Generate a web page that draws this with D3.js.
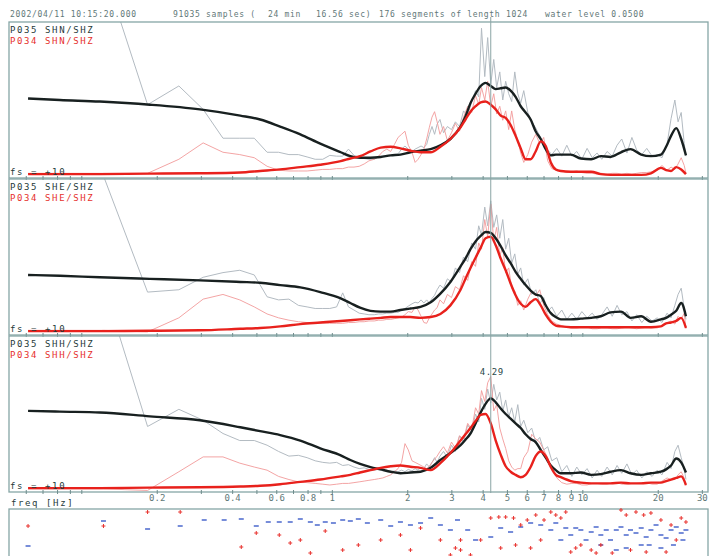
<!DOCTYPE html>
<html>
<head>
<meta charset="utf-8">
<script src="https://cdn.jsdelivr.net/npm/d3@7"></script>
<style>
  body { margin: 0; background: #fff; }
  svg { display: block; }
  text { font-family: "DejaVu Sans Mono", monospace; }
</style>
</head>
<body>
<div id="chart"></div>
<script>
const headerTexts = ["2002/04/11 10:15:20.000", "91035 samples (", "24 min", "16.56 sec)",
  "176 segments of length 1024", "water level 0.0500"];
const panelLabels = [
  ["P035 SHN/SHZ", "P034 SHN/SHZ"],
  ["P035 SHE/SHZ", "P034 SHE/SHZ"],
  ["P035 SHH/SHZ", "P034 SHH/SHZ"]
];
const scaleLabel = "fs = +10";
const tickLabels = [0.2, 0.4, 0.6, 0.8, 1, 2, 3, 4, 5, 6, 7, 8, 9, 10, 20, 30];
const peakFreq = 4.29;

// smoothed H/V curves (common frequency grid)
const smoothFreq = [0.061, 0.0817, 0.118, 0.187, 0.296, 0.429, 0.515, 0.619, 0.745, 0.895,
  1.08, 1.18, 1.29, 1.42, 1.56, 1.71, 1.87, 2.05, 2.25, 2.47,
  2.70, 2.96, 3.25, 3.40, 3.56, 3.73, 3.91, 4.09, 4.29, 4.49,
  4.70, 4.92, 5.15, 5.39, 5.65, 5.91, 6.19, 6.48, 6.79, 7.11,
  7.45, 7.80, 8.17, 8.95, 9.82, 10.8, 11.8, 12.9, 14.2, 15.5,
  17.1, 18.7, 20.5, 21.5, 22.5, 23.6, 24.7, 25.8];

const smoothP035N = [5.1, 5.0, 4.9, 4.7, 4.4, 4.0, 3.75, 3.3, 2.8, 2.2,
  1.65, 1.4, 1.3, 1.3, 1.35, 1.45, 1.5, 1.65, 1.75, 1.85,
  2.1, 2.5, 3.3, 3.95, 4.8, 5.4, 5.9, 6.1, 5.9, 5.7,
  5.75, 5.8, 5.6, 5.2, 4.6, 4.2, 3.75, 3.0, 2.5, 1.85,
  1.45, 1.5, 1.5, 1.5, 1.25, 1.2, 1.4, 1.35, 1.65, 1.85,
  1.5, 1.4, 1.5, 2.0, 2.7, 3.2, 2.5, 1.45];
const smoothP034N = [0.25, 0.25, 0.25, 0.28, 0.3, 0.35, 0.45, 0.55, 0.7, 0.85,
  1.08, 1.25, 1.4, 1.7, 1.95, 2.0, 1.9, 1.75, 1.65, 1.65,
  2.0, 2.5, 3.25, 3.75, 4.25, 4.6, 4.85, 4.9, 4.7, 4.4,
  4.0, 3.85, 3.4, 2.7, 1.9, 1.2, 1.2, 1.7, 2.35, 2.05,
  1.0, 0.55, 0.45, 0.4, 0.4, 0.4, 0.25, 0.2, 0.2, 0.2,
  0.2, 0.3, 0.65, 0.5, 0.45, 0.7, 0.55, 0.25];
const smoothP035E = [3.85, 3.8, 3.7, 3.6, 3.5, 3.4, 3.35, 3.2, 3.05, 2.75,
  2.35, 2.05, 1.75, 1.55, 1.5, 1.5, 1.6, 1.7, 1.8, 2.1,
  2.65, 3.4, 4.4, 4.9, 5.5, 6.0, 6.35, 6.6, 6.55, 6.2,
  5.7, 5.1, 4.6, 4.05, 3.6, 3.2, 2.85, 2.6, 2.5, 1.9,
  1.4, 1.15, 1.0, 1.0, 1.05, 1.1, 1.2, 1.45, 1.5, 1.1,
  1.2, 0.85, 1.0, 1.1, 1.3, 1.55, 2.05, 1.2];
const smoothP034E = [0.25, 0.25, 0.25, 0.27, 0.3, 0.4, 0.45, 0.55, 0.7, 0.8,
  0.9, 0.95, 1.0, 1.05, 1.1, 1.15, 1.15, 1.15, 1.1, 1.15,
  1.35, 1.9, 2.9, 3.6, 4.3, 4.95, 5.6, 6.2, 6.3, 5.75,
  4.9, 4.15, 3.3, 2.55, 2.0, 1.8, 2.1, 2.3, 1.9, 1.3,
  0.85, 0.6, 0.55, 0.5, 0.5, 0.5, 0.5, 0.5, 0.5, 0.5,
  0.5, 0.5, 0.55, 0.75, 0.8, 0.9, 1.1, 0.45];
const smoothP035H = [5.2, 5.15, 5.1, 4.85, 4.6, 4.15, 3.9, 3.65, 3.3, 2.8,
  2.35, 2.05, 1.8, 1.6, 1.45, 1.3, 1.2, 1.25, 1.3, 1.55,
  2.05, 2.5, 3.0, 3.35, 3.75, 4.4, 5.1, 5.65, 6.0, 5.75,
  5.35, 5.0, 4.7, 4.4, 4.1, 3.7, 3.4, 3.2, 2.7, 2.2,
  1.7, 1.4, 1.2, 1.2, 1.25, 1.1, 1.15, 1.3, 1.4, 1.2,
  1.1, 1.2, 1.3, 1.45, 1.7, 2.15, 1.9, 1.25];
const smoothP034H = [0.25, 0.25, 0.25, 0.28, 0.3, 0.35, 0.4, 0.5, 0.65, 0.8,
  1.0, 1.1, 1.25, 1.4, 1.55, 1.65, 1.7, 1.62, 1.55, 1.4,
  1.85, 2.5, 3.3, 3.7, 4.1, 4.55, 4.95, 5.0, 4.4, 3.3,
  2.4, 1.65, 1.3, 1.1, 0.95, 1.1, 1.6, 2.3, 2.6, 2.3,
  1.6, 1.1, 0.95, 0.7, 0.6, 0.55, 0.55, 0.55, 0.6, 0.55,
  0.55, 0.6, 0.6, 0.7, 0.8, 0.9, 1.0, 0.45];

// raw spectral ratios (FFT bins, then decimated above 2.7 Hz)
const thinFreq = [0.061, 0.122, 0.183, 0.244, 0.305, 0.366, 0.427, 0.488, 0.549, 0.610,
  0.671, 0.732, 0.793, 0.854, 0.916, 0.977, 1.04, 1.10, 1.16, 1.22,
  1.28, 1.34, 1.40, 1.47, 1.53, 1.59, 1.65, 1.71, 1.77, 1.83,
  1.89, 1.95, 2.01, 2.08, 2.14, 2.20, 2.26, 2.32, 2.38, 2.44,
  2.50, 2.56, 2.62, 2.69,
  2.78, 2.88, 2.99, 3.10, 3.22, 3.34, 3.47, 3.60, 3.73, 3.84,
  3.94, 4.06, 4.17, 4.29, 4.41, 4.53, 4.66, 4.79, 4.92, 5.06,
  5.20, 5.35, 5.50, 5.65, 5.81, 6.03, 6.25, 6.49, 6.73, 6.98,
  7.24, 7.52, 7.87, 8.24, 8.63, 9.04, 9.46, 9.91, 10.4, 10.9,
  11.4, 11.9, 12.5, 13.1, 13.7, 14.3, 15.0, 15.7, 16.4, 17.2,
  18.0, 18.9, 19.8, 20.7, 21.7, 22.5, 23.3, 24.0, 24.7, 25.4,
  25.8];

const rawP035N = [22, 13.4, 4.7, 5.9, 4.4, 2.55, 2.55, 2.55, 1.65, 1.65,
  1.5, 1.5, 1.35, 1.2, 1.2, 1.45, 1.4, 1.4, 1.85, 1.45,
  1.35, 1.25, 1.2, 1.2, 1.35, 1.4, 1.45, 1.45, 1.5, 1.55,
  1.85, 2.05, 1.85, 1.7, 1.85, 1.95, 2.05, 1.95, 2.15, 2.8,
  3.3, 2.8, 3.45, 3.75,
  2.9, 3.3, 3.1, 3.6, 3.3, 4.3, 4.0, 4.9, 5.6, 5.2,
  9.6, 6.5, 9.0, 6.0, 7.6, 5.8, 6.8, 5.0, 6.2, 5.4,
  4.9, 6.8, 5.4, 4.8, 5.6, 4.2, 3.6, 3.2, 2.7, 2.2,
  1.8, 1.5, 1.9, 1.4, 2.1, 1.4, 1.7, 1.2, 1.9, 1.3,
  1.6, 1.2, 1.7, 1.4, 2.1, 2.5, 1.6, 2.6, 1.8, 1.5,
  1.9, 1.4, 1.5, 1.3, 2.2, 3.8, 5.0, 3.6, 4.2, 2.2,
  1.4];
const rawP034N = [0.3, 0.3, 0.3, 1.2, 2.25, 1.65, 1.5, 1.3, 0.75, 0.5,
  0.45, 0.45, 0.45, 0.5, 0.55, 0.55, 0.6, 0.6, 0.7, 0.7,
  0.75, 0.9, 1.1, 1.2, 1.4, 1.7, 1.85, 1.7, 2.15, 2.6,
  2.8, 3.0, 2.1, 1.65, 1.0, 1.2, 1.5, 1.85, 2.5, 3.25,
  3.9, 4.25, 3.6, 2.8,
  3.3, 2.4, 2.9, 3.5, 3.0, 3.9, 4.6, 4.2, 5.3, 4.7,
  5.8, 5.0, 6.2, 4.6, 5.4, 4.1, 4.6, 3.7, 4.3, 3.1,
  4.3, 3.1, 2.4, 1.6, 1.0, 1.5, 2.3, 2.8, 2.2, 2.6,
  1.1, 0.6, 0.5, 0.45, 0.35, 0.4, 0.45, 0.35, 0.3, 0.3,
  0.25, 0.3, 0.25, 0.3, 0.3, 0.25, 0.3, 0.25, 0.3, 0.35,
  0.35, 0.4, 0.5, 0.8, 0.5, 0.7, 0.55, 0.9, 1.3, 0.8,
  0.3];
const rawP035E = [22, 10.2, 2.75, 2.9, 3.7, 4.0, 4.15, 3.85, 2.45, 2.25,
  2.3, 1.9, 1.8, 1.7, 1.7, 1.7, 1.8, 2.7, 1.8, 1.6,
  1.4, 1.35, 1.3, 1.3, 1.35, 1.35, 1.4, 1.4, 1.45, 1.45,
  1.6, 1.7, 1.85, 2.0, 2.1, 2.05, 2.25, 2.05, 2.25, 2.05,
  2.35, 2.55, 2.9, 3.2,
  3.0, 3.6, 3.4, 4.3, 4.0, 5.0, 4.7, 5.9, 5.5, 7.0,
  6.4, 8.2, 7.0, 8.6, 6.9, 7.7, 6.2, 7.4, 5.5, 6.2,
  4.6, 5.2, 3.9, 4.3, 3.2, 3.6, 2.6, 2.9, 2.0, 2.4,
  1.5, 1.8, 1.2, 1.6, 1.0, 1.4, 1.0, 1.5, 1.1, 1.4,
  1.0, 1.3, 1.8, 1.2, 1.9, 1.3, 1.5, 0.9, 1.3, 0.8,
  1.2, 0.9, 1.1, 0.8, 1.4, 1.1, 1.9, 2.6, 3.0, 1.7,
  1.0];
const rawP034E = [0.3, 0.3, 0.2, 1.1, 2.3, 2.6, 2.25, 1.8, 1.35, 1.1,
  0.95, 0.85, 0.8, 0.75, 0.75, 0.75, 0.75, 0.75, 0.8, 0.8,
  0.85, 0.85, 0.9, 0.9, 0.95, 0.95, 1.0, 1.0, 1.05, 1.1,
  1.15, 1.3, 1.5, 1.45, 1.8, 1.6, 1.2, 0.8, 0.75, 1.1,
  1.35, 1.6, 1.75, 2.25,
  2.0, 2.6, 2.4, 3.1, 2.9, 3.8, 3.5, 4.7, 4.4, 5.9,
  5.5, 7.4, 6.3, 8.4, 6.0, 6.9, 5.1, 5.6, 4.0, 4.3,
  3.0, 2.8, 1.9, 2.2, 1.6, 2.3, 2.8, 2.5, 2.9, 1.9,
  1.3, 0.9, 0.7, 0.6, 0.5, 0.45, 0.45, 0.5, 0.5, 0.4,
  0.4, 0.45, 0.45, 0.4, 0.4, 0.45, 0.5, 0.45, 0.4, 0.45,
  0.5, 0.45, 0.45, 0.6, 0.8, 0.9, 0.7, 1.2, 1.0, 1.4,
  0.4];
const rawP035H = [22, 13.3, 4.2, 5.3, 4.6, 3.75, 3.3, 3.3, 3.0, 2.6,
  2.3, 2.35, 2.2, 2.0, 1.9, 1.85, 1.9, 1.7, 1.75, 1.6,
  1.5, 1.55, 1.45, 1.4, 1.45, 1.35, 1.4, 1.3, 1.35, 1.3,
  1.4, 1.3, 1.45, 1.35, 1.5, 1.4, 1.6, 1.5, 1.8, 1.6,
  1.9, 2.2, 1.9, 2.3,
  2.6, 2.2, 3.0, 2.6, 3.6, 3.2, 4.3, 3.9, 5.0, 4.5,
  6.0, 5.3, 6.6, 5.7, 6.9, 5.9, 6.4, 5.2, 5.9, 4.8,
  5.4, 4.5, 5.6, 4.2, 4.6, 3.8, 4.1, 3.2, 3.5, 2.7,
  2.9, 2.0, 2.2, 1.3, 1.7, 1.0, 1.6, 1.1, 1.5, 0.9,
  1.4, 1.0, 1.6, 1.1, 1.7, 1.2, 1.8, 1.1, 1.4, 0.9,
  1.3, 1.0, 1.4, 1.1, 1.9, 1.5, 2.6, 3.0, 2.2, 1.5,
  0.8];
const rawP034H = [0.2, 0.2, 0.1, 1.3, 2.25, 2.25, 1.85, 1.6, 1.4, 1.0,
  0.8, 0.65, 0.6, 0.55, 0.5, 0.45, 0.5, 0.55, 0.55, 0.6,
  0.65, 0.7, 0.75, 0.8, 0.85, 0.9, 1.0, 1.1, 1.3, 1.5,
  1.9, 3.1, 2.7, 2.0, 1.9, 1.8, 1.7, 1.6, 1.5, 1.65,
  1.9, 2.1, 2.3, 2.6,
  2.9, 2.5, 3.2, 2.8, 3.6, 3.4, 4.4, 4.0, 5.4, 5.0,
  6.5, 5.8, 7.0, 7.4, 5.2, 5.6, 4.1, 3.4, 2.8, 2.0,
  1.6, 1.4, 1.5, 1.5, 2.2, 2.6, 3.7, 3.4, 3.2, 2.7,
  2.2, 1.5, 0.9, 0.6, 0.5, 0.55, 0.55, 0.45, 0.45, 0.55,
  0.55, 0.5, 0.5, 0.6, 0.6, 0.5, 0.5, 0.55, 0.55, 0.6,
  0.6, 0.5, 0.5, 0.7, 0.9, 0.8, 0.8, 1.1, 1.3, 0.9,
  0.4];

// lower strip: [freq, value]
const bluePts = [[0.061, 55], [0.122, 80], [0.183, 72], [0.247, 75], [0.308, 81], [0.370, 81],
  [0.433, 82], [0.497, 75], [0.555, 79], [0.614, 79], [0.679, 79], [0.745, 82], [0.817, 79],
  [0.871, 76], [0.937, 79], [1.01, 78], [1.10, 81], [1.18, 80], [1.27, 82], [1.38, 78],
  [1.56, 81], [1.71, 75], [1.87, 79], [2.05, 76], [2.25, 78], [2.47, 83], [2.70, 76],
  [2.96, 71], [3.16, 81], [3.47, 71], [3.73, 61], [4.29, 64], [4.70, 73], [5.15, 69],
  [5.65, 74], [6.19, 78], [6.79, 76], [7.45, 71], [7.80, 78], [8.17, 61], [8.55, 73],
  [8.95, 66], [9.37, 73], [9.82, 71], [10.3, 61], [10.8, 69], [11.3, 74], [11.8, 66],
  [12.4, 71], [12.9, 61], [13.6, 71], [14.2, 74], [14.9, 66], [15.5, 71], [16.3, 68],
  [17.1, 73], [17.9, 64], [18.4, 56], [18.7, 71], [19.6, 76], [20.5, 66], [21.5, 63],
  [22.5, 71], [23.0, 56], [23.6, 74], [24.7, 68], [25.1, 61], [25.8, 71], [11.8, 56],
  [14.9, 53], [17.1, 56], [13.6, 51], [20.5, 53]];
const redPts = [[0.061, 75], [0.122, 75], [0.183, 89], [0.247, 89], [0.497, 68], [0.614, 66],
  [0.679, 58], [0.745, 61], [0.433, 54], [0.937, 70], [1.10, 51], [0.817, 48], [1.27, 56],
  [1.56, 61], [1.87, 66], [2.05, 51], [2.25, 73], [2.70, 61], [2.96, 46], [3.25, 51],
  [3.56, 46], [3.91, 61], [4.29, 83], [4.62, 84], [4.92, 84], [5.29, 83], [5.65, 76],
  [6.0, 81], [6.49, 86], [7.0, 81], [7.45, 89], [7.80, 86], [8.17, 83], [8.55, 89],
  [8.95, 49], [9.37, 53], [9.82, 56], [10.8, 51], [11.8, 56], [13.1, 48], [14.2, 91],
  [14.9, 86], [16.3, 89], [17.5, 86], [18.7, 88], [20.5, 81], [22.5, 76], [24.7, 83],
  [25.8, 79], [15.5, 51], [17.9, 49], [21.5, 49], [23.6, 61], [11.3, 48], [6.79, 61],
  [6.19, 53], [5.39, 56], [4.70, 53], [3.10, 53], [3.25, 61]];

const panels = [
  { labels: panelLabels[0], black: smoothP035N, red: smoothP034N, gray: rawP035N, pink: rawP034N },
  { labels: panelLabels[1], black: smoothP035E, red: smoothP034E, gray: rawP035E, pink: rawP034E },
  { labels: panelLabels[2], black: smoothP035H, red: smoothP034H, gray: rawP035H, pink: rawP034H }
];

const width = 717;
const height = 556;
const left = 9, right = 708;
const panelTops = [22, 179, 336];
const panelH = 156;
const frameColor = "#86a6a6";

const svg = d3.select("#chart").append("svg")
  .attr("width", width)
  .attr("height", height);

const x = d3.scaleLog().domain([0.0512, 31.6]).range([left, right]);

// header
const headerX = [10, 173, 268, 316, 379, 545];
svg.selectAll("text.header")
  .data(headerTexts)
  .join("text")
  .attr("class", "header")
  .attr("x", (d, i) => headerX[i])
  .attr("y", 17)
  .attr("font-size", 8)
  .attr("letter-spacing", 0.7)
  .attr("fill", "#5f7878")
  .text(d => d);

const defs = svg.append("defs");
const tickVals = x.ticks();

panels.forEach((p, i) => {
  const top = panelTops[i];
  const bottom = top + panelH;
  const y = d3.scaleLinear().domain([0, 10]).range([bottom, top]);
  const g = svg.append("g");

  defs.append("clipPath").attr("id", "clip" + i)
    .append("rect").attr("x", left).attr("y", top).attr("width", right - left).attr("height", panelH);

  const plot = g.append("g").attr("clip-path", `url(#clip${i})`);
  const line = d3.line().x(d => x(d[0])).y(d => y(d[1]));
  const smooth = d3.line().x(d => x(d[0])).y(d => y(d[1])).curve(d3.curveMonotoneX);

  plot.append("path")
    .attr("d", line(d3.zip(thinFreq, p.gray)))
    .attr("fill", "none").attr("stroke", "#b3bbc2").attr("stroke-width", 1);
  plot.append("path")
    .attr("d", line(d3.zip(thinFreq, p.pink)))
    .attr("fill", "none").attr("stroke", "#f29a9a").attr("stroke-width", 0.9);
  plot.append("path")
    .attr("d", smooth(d3.zip(smoothFreq, p.black)))
    .attr("fill", "none").attr("stroke", "#182020").attr("stroke-width", 2.4);
  plot.append("path")
    .attr("d", smooth(d3.zip(smoothFreq, p.red)))
    .attr("fill", "none").attr("stroke", "#e8211c").attr("stroke-width", 2.4);

  g.append("rect")
    .attr("x", left).attr("y", top)
    .attr("width", right - left).attr("height", panelH)
    .attr("fill", "none").attr("stroke", frameColor).attr("stroke-width", 1.3);

  g.selectAll("line.tick")
    .data(tickVals)
    .join("line")
    .attr("class", "tick")
    .attr("x1", d => x(d)).attr("x2", d => x(d))
    .attr("y1", bottom - 2).attr("y2", bottom + 2)
    .attr("stroke", "#6e8c8c").attr("stroke-width", 1);

  const labelFont = { size: 9, spacing: 1.6 };
  g.append("text").attr("x", 10).attr("y", top + 11)
    .attr("font-size", labelFont.size).attr("letter-spacing", labelFont.spacing)
    .attr("fill", "#1f3a3a").text(p.labels[0]);
  g.append("text").attr("x", 10).attr("y", top + 22)
    .attr("font-size", labelFont.size).attr("letter-spacing", labelFont.spacing)
    .attr("fill", "#e6302c").text(p.labels[1]);
  g.append("text").attr("x", 10).attr("y", bottom - 3)
    .attr("font-size", labelFont.size).attr("letter-spacing", labelFont.spacing)
    .attr("fill", "#1f3a3a").text(scaleLabel);
});

// peak marker
svg.append("line")
  .attr("x1", x(peakFreq)).attr("x2", x(peakFreq))
  .attr("y1", 17).attr("y2", 493)
  .attr("stroke", "#8aa5a5").attr("stroke-width", 1);
svg.append("text")
  .attr("x", x(peakFreq) + 1).attr("y", 375)
  .attr("text-anchor", "middle")
  .attr("font-size", 9).attr("letter-spacing", 0.6)
  .attr("fill", "#2a4848").text(peakFreq.toFixed(2));

// axis labels
svg.selectAll("text.tl")
  .data(tickLabels)
  .join("text")
  .attr("class", "tl")
  .attr("x", d => x(d))
  .attr("y", 501)
  .attr("text-anchor", "middle")
  .attr("font-size", 9)
  .attr("fill", "#5f7878")
  .text(d => d);
svg.append("text").attr("x", 11).attr("y", 506)
  .attr("font-size", 9).attr("letter-spacing", 1.6)
  .attr("fill", "#1f3a3a").text("freq [Hz]");

// lower strip
const stripTop = 509;
const ys = d3.scaleLinear().domain([0, 90]).range([601, 511]);
svg.append("rect")
  .attr("x", left).attr("y", stripTop)
  .attr("width", right - left).attr("height", 80)
  .attr("fill", "none").attr("stroke", frameColor).attr("stroke-width", 1.3);
svg.selectAll("path.minus")
  .data(bluePts)
  .join("path")
  .attr("class", "minus")
  .attr("d", d => `M${x(d[0]) - 2.5},${ys(d[1])}h5`)
  .attr("stroke", "#2e4fc4").attr("stroke-width", 1.3);
svg.selectAll("path.plus")
  .data(redPts)
  .join("path")
  .attr("class", "plus")
  .attr("d", d => `M${x(d[0]) - 2},${ys(d[1])}h4M${x(d[0])},${ys(d[1]) - 2}v4`)
  .attr("stroke", "#e8302c").attr("stroke-width", 1);
</script>
</body>
</html>
